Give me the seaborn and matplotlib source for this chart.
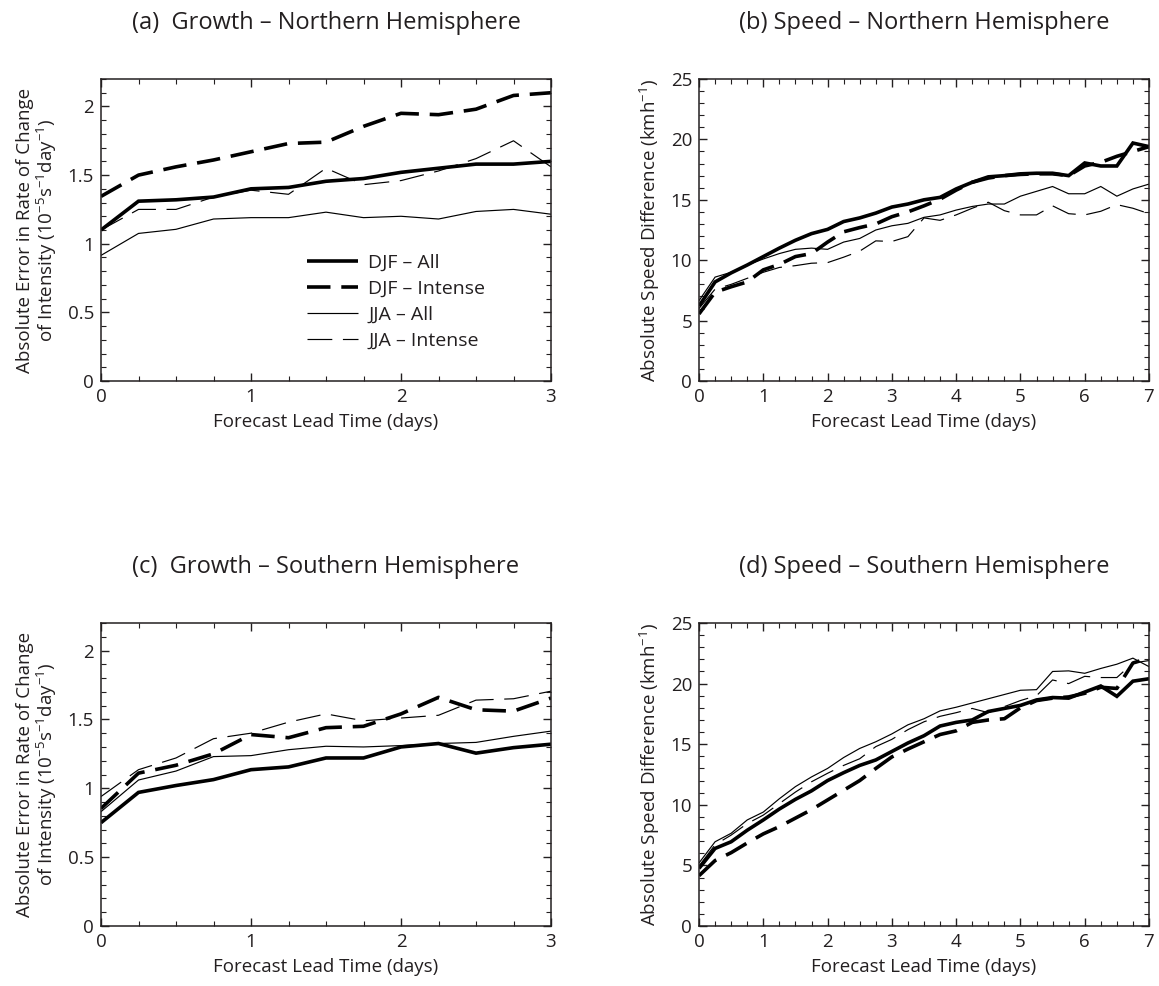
import numpy as np
import pandas as pd
import matplotlib
matplotlib.use("Agg")
import matplotlib.pyplot as plt
from matplotlib.ticker import MultipleLocator, FormatStrFormatter
import seaborn as sns

sns.set_theme(style="white")
plt.rcParams['font.family'] = ['Open Sans', 'DejaVu Sans']
plt.rcParams['mathtext.fontset'] = 'custom'
plt.rcParams['mathtext.rm'] = 'Open Sans'
plt.rcParams['mathtext.default'] = 'regular'

TXT = '#231f20'

# ---------------- data ----------------
lead_growth = [0, 0.25, 0.5, 0.75, 1.0, 1.25, 1.5, 1.75, 2.0, 2.25, 2.5, 2.75, 3.0]
lead_speed = [0, 0.25, 0.5, 0.75, 1.0, 1.25, 1.5, 1.75, 2.0, 2.25, 2.5, 2.75, 3.0,
              3.25, 3.5, 3.75, 4.0, 4.25, 4.5, 4.75, 5.0, 5.25, 5.5, 5.75, 6.0,
              6.25, 6.5, 6.75, 7.0]

series_names = ["DJF \u2013 All", "DJF \u2013 Intense", "JJA \u2013 All", "JJA \u2013 Intense"]

# (a) Growth - NH
a_djf_all = [1.10, 1.31, 1.32, 1.34, 1.40, 1.41, 1.455, 1.475, 1.52, 1.55, 1.58, 1.58, 1.60]
a_djf_int = [1.345, 1.50, 1.56, 1.61, 1.67, 1.73, 1.74, 1.855, 1.95, 1.94, 1.98, 2.08, 2.10]
a_jja_all = [0.915, 1.075, 1.105, 1.18, 1.19, 1.19, 1.23, 1.19, 1.20, 1.18, 1.235, 1.25, 1.215]
a_jja_int = [1.10, 1.25, 1.25, 1.34, 1.39, 1.36, 1.55, 1.43, 1.46, 1.53, 1.62, 1.75, 1.56]

# (b) Speed - NH
b_djf_all = [6.2, 8.2, 8.95, 9.6, 10.3, 11.0, 11.65, 12.2, 12.55, 13.2, 13.5, 13.9, 14.4,
             14.65, 15.0, 15.2, 15.9, 16.45, 16.9, 17.0, 17.15, 17.2, 17.2, 17.0, 18.05,
             17.8, 17.8, 19.7, 19.4]
b_djf_int = [5.55, 7.35, 7.8, 8.2, 9.2, 9.65, 10.3, 10.55, 11.5, 12.35, 12.7, 13.0, 13.6,
             14.0, 14.5, 15.05, 15.8, 16.45, 16.8, 17.0, 17.1, 17.15, 17.15, 17.0, 17.8,
             18.1, 18.6, 19.0, 19.4]
b_jja_all = [6.65, 8.6, 9.0, 9.6, 10.1, 10.55, 10.9, 11.0, 10.9, 11.5, 11.8, 12.5, 12.85,
             13.05, 13.55, 13.75, 14.15, 14.45, 14.65, 14.65, 15.3, 15.7, 16.1, 15.5, 15.5,
             16.1, 15.3, 15.9, 16.3]
b_jja_int = [6.0, 7.6, 8.0, 8.5, 9.0, 9.4, 9.55, 9.75, 9.8, 10.25, 10.75, 11.6, 11.55,
             11.95, 13.5, 13.3, 13.75, 14.3, 14.8, 14.1, 13.75, 13.75, 14.5, 13.85, 13.75,
             14.05, 14.6, 14.3, 13.85]

# (c) Growth - SH
c_djf_all = [0.75, 0.97, 1.02, 1.063, 1.135, 1.155, 1.22, 1.22, 1.30, 1.325, 1.255, 1.295, 1.32]
c_djf_int = [0.853, 1.11, 1.167, 1.25, 1.39, 1.367, 1.44, 1.45, 1.54, 1.66, 1.57, 1.56, 1.655]
c_jja_all = [0.83, 1.06, 1.125, 1.23, 1.237, 1.28, 1.305, 1.30, 1.31, 1.325, 1.333, 1.377, 1.415]
c_jja_int = [0.94, 1.135, 1.22, 1.36, 1.40, 1.48, 1.54, 1.49, 1.51, 1.53, 1.64, 1.65, 1.705]

# (d) Speed - SH
d_djf_all = [4.75, 6.4, 6.95, 7.9, 8.75, 9.65, 10.45, 11.15, 12.0, 12.65, 13.25, 13.7, 14.4,
             15.1, 15.7, 16.5, 16.8, 17.0, 17.7, 17.95, 18.2, 18.65, 18.85, 18.8, 19.3,
             19.8, 18.95, 20.2, 20.4]
d_djf_int = [4.15, 5.4, 6.05, 6.85, 7.6, 8.2, 8.9, 9.6, 10.4, 11.2, 12.0, 13.0, 13.95,
             14.6, 15.2, 15.8, 16.1, 16.8, 17.0, 17.1, 18.0, 18.6, 18.8, 18.9, 19.2,
             19.7, 19.6, 21.7, 22.1]
d_jja_all = [5.2, 6.95, 7.65, 8.75, 9.4, 10.5, 11.5, 12.3, 13.0, 13.9, 14.65, 15.2, 15.85,
             16.6, 17.1, 17.75, 18.05, 18.4, 18.75, 19.1, 19.45, 19.5, 21.0, 21.05, 20.85,
             21.25, 21.6, 22.1, 21.4]
d_jja_int = [4.95, 6.7, 7.5, 8.45, 9.15, 10.1, 11.05, 11.9, 12.6, 13.25, 13.8, 14.8, 15.4,
             16.2, 16.85, 17.3, 17.6, 17.95, 17.6, 18.1, 18.6, 19.0, 20.3, 20.0, 20.6,
             20.5, 20.5, 21.7, 21.9]

titles = ["(a)  Growth \u2013 Northern Hemisphere", "(b) Speed \u2013 Northern Hemisphere",
          "(c)  Growth \u2013 Southern Hemisphere", "(d) Speed \u2013 Southern Hemisphere"]
growth_ylabel = "Absolute Error in Rate of Change\nof Intensity (10$^{-5}$s$^{-1}$day$^{-1}$)"
speed_ylabel = "Absolute Speed Difference (kmh$^{-1}$)"
xlabel = "Forecast Lead Time (days)"

# ---------------- styles ----------------
widths = {series_names[0]: 2.6, series_names[1]: 2.6, series_names[2]: 0.85, series_names[3]: 0.85}
dash_map = {series_names[0]: "", series_names[1]: (6.5, 3.0),
            series_names[2]: "", series_names[3]: (21, 9)}


def make_df(x, vals):
    rows = []
    for name, v in zip(series_names, vals):
        for xi, yi in zip(x, v):
            rows.append({"t": xi, "v": yi, "series": name})
    return pd.DataFrame(rows)


W, H = 1159, 986
fig = plt.figure(figsize=(W / 100, H / 100), dpi=100)
fig.patch.set_facecolor('white')

ax_w = 450 / W
pos = {
    'a': [101 / W, 1 - 381 / H, ax_w, 302 / H],
    'b': [699 / W, 1 - 381 / H, ax_w, 302 / H],
    'c': [101 / W, 1 - 926 / H, ax_w, 303 / H],
    'd': [699 / W, 1 - 926 / H, ax_w, 303 / H],
}

panels = [
    ('a', lead_growth, [a_djf_all, a_djf_int, a_jja_all, a_jja_int], 'growth'),
    ('b', lead_speed, [b_djf_all, b_djf_int, b_jja_all, b_jja_int], 'speed'),
    ('c', lead_growth, [c_djf_all, c_djf_int, c_jja_all, c_jja_int], 'growth'),
    ('d', lead_speed, [d_djf_all, d_djf_int, d_jja_all, d_jja_int], 'speed'),
]

LAB = 13.5
for i, (key, x, vals, kind) in enumerate(panels):
    ax = fig.add_axes(pos[key])
    df = make_df(x, vals)
    sns.lineplot(data=df, x="t", y="v", style="series", size="series",
                 sizes=widths, dashes=dash_map, color="black",
                 style_order=series_names, size_order=series_names,
                 errorbar=None, legend=False, ax=ax, solid_capstyle='butt',
                 dash_capstyle='butt', solid_joinstyle='miter')
    if kind == 'growth':
        ax.set_xlim(0, 3)
        ax.set_ylim(0, 2.2)
        ax.yaxis.set_major_locator(MultipleLocator(0.5))
        ax.yaxis.set_minor_locator(MultipleLocator(0.1))
        ax.set_ylabel(growth_ylabel, fontsize=LAB, color=TXT, labelpad=6, linespacing=1.05)
    else:
        ax.set_xlim(0, 7)
        ax.set_ylim(0, 25)
        ax.yaxis.set_major_locator(MultipleLocator(5))
        ax.yaxis.set_minor_locator(MultipleLocator(1))
        ax.set_ylabel(speed_ylabel, fontsize=LAB, color=TXT, labelpad=6)
    ax.xaxis.set_major_locator(MultipleLocator(1))
    ax.xaxis.set_minor_locator(MultipleLocator(0.25))
    ax.xaxis.set_major_formatter(FormatStrFormatter('%g'))
    ax.yaxis.set_major_formatter(FormatStrFormatter('%g'))
    ax.tick_params(which='both', direction='in', top=True, right=True,
                   bottom=True, left=True, color='#231f20')
    ax.tick_params(which='major', length=6, width=1.0, labelsize=13.5, pad=5, labelcolor=TXT)
    ax.tick_params(which='minor', length=3.5, width=0.8)
    for sp in ax.spines.values():
        sp.set_color('#231f20')
        sp.set_linewidth(1.1)
    ax.set_xlabel(xlabel, fontsize=LAB, color=TXT, labelpad=5)
    ax.set_title(titles[i], fontsize=17, color=TXT, pad=36)
    ax.grid(False)

    if key == 'a':
        handles = ax.get_lines()[:4]
        leg = ax.legend(handles, series_names, loc='upper left',
                        bbox_to_anchor=(0.458, 0.42), frameon=False,
                        fontsize=14, handlelength=2.6, handletextpad=0.55,
                        labelspacing=0.4, borderpad=0, borderaxespad=0)
        for t in leg.get_texts():
            t.set_color(TXT)

fig.savefig("out.png", dpi=100, facecolor='white')
